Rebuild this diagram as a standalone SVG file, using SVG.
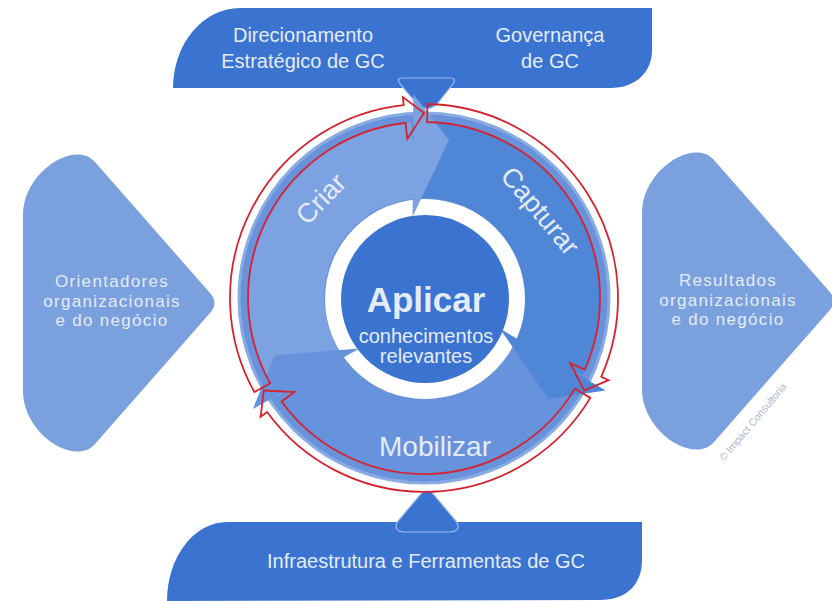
<svg xmlns="http://www.w3.org/2000/svg" width="832" height="601" viewBox="0 0 832 601">
<style>
.bar{fill:#3b73d0}
.side{fill:#7aa0de}
.lt{font-family:"Liberation Sans",Arial,sans-serif;fill:#e4ecfa;text-anchor:middle}
.sm{font-size:17px;letter-spacing:1.3px}
.red{fill:none;stroke:#d42330;stroke-width:1.8;stroke-linejoin:miter}
.outl{stroke:#9dbbec;stroke-width:1.2}
</style>
<rect width="832" height="601" fill="#ffffff"/>
<g id="top-bar">
<path class="bar" d="M 173,88 A 67 80 0 0 1 240,8 L 652,8 L 652,50 C 652,72 636,88 610,88 Z"/>
<path class="bar outl" d="M 402,78 L 450,78 Q 457,78 453,84 L 437,104 Q 427,113 417,104 L 400,84 Q 396,78 402,78 Z"/>
<text class="lt" font-size="20" x="303" y="42">Direcionamento</text>
<text class="lt" font-size="20" x="303" y="68">Estratégico de GC</text>
<text class="lt" font-size="20" x="550" y="42">Governança</text>
<text class="lt" font-size="20" x="550" y="68">de GC</text>
</g>
<g id="bottom-bar">
<path class="bar" d="M 167,601 A 60 79 0 0 1 227,522 L 642,522 L 642,560 C 642,585 626,600 600,600 L 167,601 Z"/>
<path class="bar outl" d="M 427,491 Q 431,491 434,495 L 456,521 Q 462,531 450,532 L 404,532 Q 392,531 398,521 L 420,495 Q 423,491 427,491 Z"/>
<text class="lt" font-size="20" x="426" y="568">Infraestrutura e Ferramentas de GC</text>
</g>
<g id="left-drivers">
<path class="side" d="M 23,215 C 23,172 75,139 95,162 L 210,293 Q 219,303 210,313 L 95,444 C 75,467 23,434 23,391 Z"/>
<text class="lt sm" x="112" y="287">Orientadores</text>
<text class="lt sm" x="112" y="306.5">organizacionais</text>
<text class="lt sm" x="112" y="326">e do negócio</text>
</g>
<g id="right-results">
<path class="side" transform="translate(619,-2)" d="M 23,215 C 23,172 75,139 95,162 L 210,293 Q 219,303 210,313 L 95,444 C 75,467 23,434 23,391 Z"/>
<text class="lt sm" x="728" y="286">Resultados</text>
<text class="lt sm" x="728" y="305.5">organizacionais</text>
<text class="lt sm" x="728" y="325">e do negócio</text>
<text font-family="Liberation Sans,Arial,sans-serif" font-size="10.5" fill="#aeb8ca" transform="translate(724,462) rotate(-50)">© Impact Consultoria</text>
</g>
<g id="cycle">
<circle cx="424" cy="298" r="185" fill="#6892da" stroke="#88abe6" stroke-width="3"/>
<g id="criar">
<path fill="#7da2e2" d="M 278.1,396.4 A 176 176 0 0 1 411.7,122.4 L 417.0,198.2 A 100 100 0 0 0 341.1,353.9 Z"/>
</g>
<g id="capturar">
<path fill="#5086d6" d="M 411.7,122.4 A 176 176 0 0 1 582.2,375.2 L 513.9,341.8 A 100 100 0 0 0 417.0,198.2 Z"/>
</g>
<g id="mobilizar">
<path fill="#6793dc" d="M 582.2,375.2 A 176 176 0 0 1 278.1,396.4 L 341.1,353.9 A 100 100 0 0 0 513.9,341.8 Z"/>
</g>
<circle cx="425" cy="299" r="100" fill="#ffffff"/>
<g id="aplicar">
<circle cx="425" cy="299" r="84" fill="#3b73d0"/>
<text class="lt" font-size="35" font-weight="bold" x="426" y="312" fill="#f2f6fd">Aplicar</text>
<text class="lt" font-size="20" x="426" y="343">conhecimentos</text>
<text class="lt" font-size="20" x="426" y="363">relevantes</text>
</g>
<path fill="#7da2e2" d="M 412.6,216.8 L 449.0,140.0 L 413.3,94.3 Z"/>
<path fill="#5086d6" d="M 500.0,328.7 L 548.3,398.7 L 605.8,390.6 Z"/>
<path fill="#6793dc" d="M 359.4,348.5 L 274.6,355.3 L 252.9,409.1 Z"/>
<text class="lt" font-size="27" transform="translate(321,199) rotate(-46)" y="9">Criar</text>
<text class="lt" font-size="27" transform="translate(540,211) rotate(50)" y="9">Capturar</text>
<text class="lt" font-size="28" x="435" y="456">Mobilizar</text>
</g>
<g id="connectors">
<path class="red" d="M 254.3,392.0 A 194 194 0 0 1 403.7,105.1 L 402.9,97.1 L 424,113 L 407.3,138.9 L 405.6,123.0 A 176 176 0 0 0 270.1,383.3 Z"/>
<path class="red" d="M 427.4,104.0 A 194 194 0 0 1 601.2,376.9 L 608.5,380.2 L 584.2,390.5 L 570.2,363.1 L 584.8,369.6 A 176 176 0 0 0 427.1,122.0 Z"/>
<path class="red" d="M 590.3,397.9 A 194 194 0 0 1 267.1,412.0 L 260.6,416.7 L 263.8,390.5 L 294.6,392.0 L 281.6,401.5 A 176 176 0 0 0 574.9,388.6 Z"/>
</g>
</svg>
